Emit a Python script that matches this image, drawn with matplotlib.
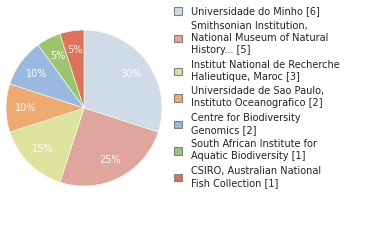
import matplotlib
matplotlib.use("Agg")
import matplotlib.pyplot as plt
from matplotlib.patches import Patch

labels = [
    "Universidade do Minho [6]",
    "Smithsonian Institution,\nNational Museum of Natural\nHistory... [5]",
    "Institut National de Recherche\nHalieutique, Maroc [3]",
    "Universidade de Sao Paulo,\nInstituto Oceanografico [2]",
    "Centre for Biodiversity\nGenomics [2]",
    "South African Institute for\nAquatic Biodiversity [1]",
    "CSIRO, Australian National\nFish Collection [1]",
]
values = [6, 5, 3, 2, 2, 1, 1]
colors = ["#cfdbe7", "#e0a69e", "#dde29c", "#efab6f", "#9ab9e0", "#9dc36c", "#de735a"]

W, H = 380, 240
fig = plt.figure(figsize=(W / 100, H / 100), dpi=100)
cx, cy, r = 84, 108, 78
ax = fig.add_axes([(cx - r) / W, (H - cy - r) / H, 2 * r / W, 2 * r / H])
wedges, texts, autotexts = ax.pie(
    values, colors=colors, startangle=90, counterclock=False,
    autopct="%1.0f%%", pctdistance=0.75,
    wedgeprops=dict(edgecolor="white", linewidth=0.4),
    textprops=dict(color="white", fontsize=7),
)
ax.set_xlim(-1, 1)
ax.set_ylim(-1, 1)
ax.set_aspect("equal")
ax.axis("off")

handles = [Patch(facecolor=c, edgecolor="#808080", linewidth=0.8) for c in colors]
leg = fig.legend(handles, labels, loc="upper left",
                 bbox_to_anchor=(174 / W, 1 - 6.5 / H), frameon=False,
                 fontsize=7, handlelength=0.8, handleheight=0.8,
                 handletextpad=0.95, labelspacing=0.47, borderpad=0,
                 borderaxespad=0)
for t in leg.get_texts():
    t.set_color("#222222")
    t.set_linespacing(1.25)
fig.savefig("out.png", dpi=100)
